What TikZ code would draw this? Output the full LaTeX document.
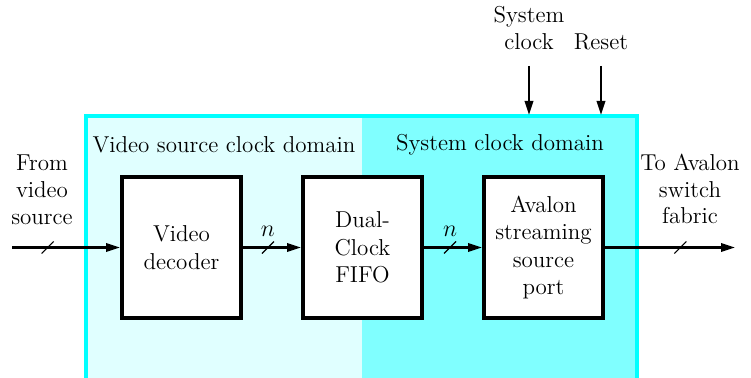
\documentclass[tikz,border=0pt]{standalone}
\definecolor{dominioClaro}{HTML}{E0FFFF}
\definecolor{dominioSistema}{HTML}{80FFFF}
\definecolor{bordeCian}{HTML}{00FFFF}
\usepackage{tikz}
\usetikzlibrary{
	arrows.meta,
	positioning,
	calc
}
\tikzset{
	bloque/.style={
		draw=black,
		line width=2pt,
		fill=white,
		align=center,
		minimum width=59.5pt,
		minimum height=70.5pt,
		inner sep=2pt,
		font=\fontsize{11.5}{13.8}\selectfont
	},
	etiqueta/.style={
		align=center,
		inner sep=1pt,
		font=\fontsize{11.5}{13.4}\selectfont
	},
	flecha/.style={
		-{Triangle[length=7pt,width=4.2pt]},
		line width=1.1pt
	},
	bus/.style={
		line width=0.6pt
	},
	borde/.style={
		draw=bordeCian,
		line width=2.2pt
	}
}

\begin{document}
\begin{tikzpicture}[x=0.5pt,y=-0.5pt,node distance=29pt]
		\useasboundingbox (0,0) rectangle (751,378);
		\clip (0,0) rectangle (751,378);
		% clock domains
		\fill[dominioClaro] (86,116) rectangle (362,400);
		\fill[dominioSistema] (362,116) rectangle (637,400);
		\draw[borde] (86,400) |- (637,116) -- (637,400);
		\node[etiqueta] (domvid) at (224,145) {Video source clock domain};
		\node[etiqueta] (domsis) at (500,145) {System clock domain};
		% blocks
		\node[bloque] (dec) at (181.5,247.5) {Video\\decoder};
		\node[bloque, right=of dec] (fifo) {Dual-\\Clock\\FIFO};
		\node[bloque, right=of fifo] (avl) {Avalon\\streaming\\source\\port};
		% inputs and outputs
		\node[etiqueta] (fuente) at (42,190) {From\\video\\source};
		\node[etiqueta] (destino) at (690,189) {To Avalon\\switch\\fabric};
		\node[etiqueta, anchor=south] (clk) at (529,52) {System\\clock};
		\node[etiqueta, anchor=south] (rst) at (601,52) {Reset};
		\coordinate (ent) at (12,247.5);
		\coordinate (sal) at (735,247.5);
		\coordinate (clkin) at (529,66);
		\coordinate (clkend) at (529,115);
		\coordinate (rstin) at (601,66);
		\coordinate (rstend) at (601,115);
		\draw[flecha] (ent) -- (dec);
		\draw[flecha] (dec) -- node[pos=0.43, above=4pt, etiqueta] {$n$} (fifo);
		\draw[flecha] (fifo) -- node[pos=0.45, above=4pt, etiqueta] {$n$} (avl);
		\draw[flecha] (avl) -- (sal);
		\draw[flecha] (clkin) -- (clkend);
		\draw[flecha] (rstin) -- (rstend);
		% bus slashes
		\draw[bus] ($(ent)!0.33!(dec.west)+(-6,6)$) -- ++(12,-12);
		\draw[bus] ($(dec.east)!0.43!(fifo.west)+(-6,6)$) -- ++(12,-12);
		\draw[bus] ($(fifo.east)!0.45!(avl.west)+(-6,6)$) -- ++(12,-12);
		\draw[bus] ($(avl.east)!0.58!(sal)+(-6,6)$) -- ++(12,-12);
	\end{tikzpicture}
\end{document}
